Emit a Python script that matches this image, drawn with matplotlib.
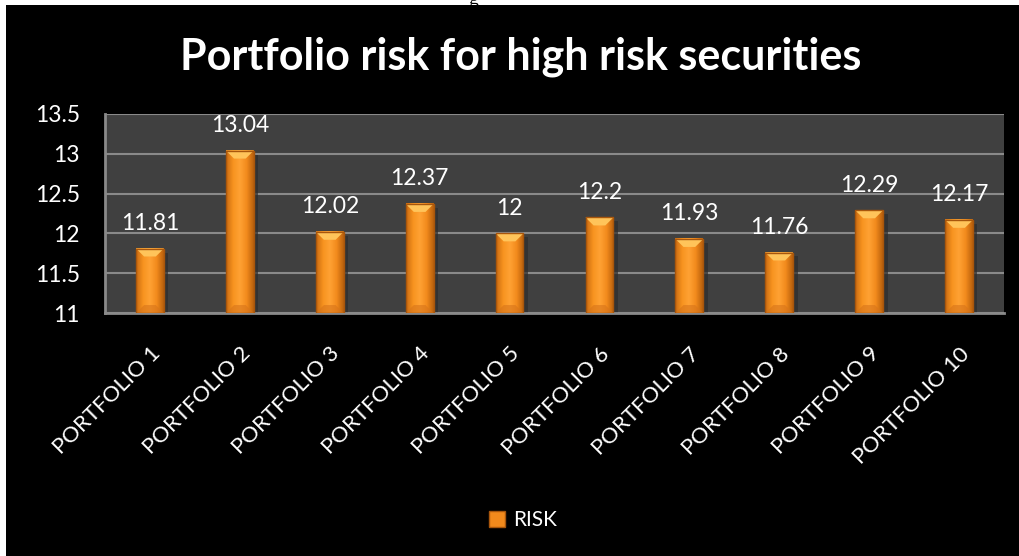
import numpy as np
import matplotlib.pyplot as plt
from matplotlib.patches import Rectangle, Polygon, Patch
from matplotlib.colors import LinearSegmentedColormap

plt.rcParams['font.family'] = ['Lato', 'DejaVu Sans']

portfolios = ['PORTFOLIO 1', 'PORTFOLIO 2', 'PORTFOLIO 3', 'PORTFOLIO 4', 'PORTFOLIO 5',
              'PORTFOLIO 6', 'PORTFOLIO 7', 'PORTFOLIO 8', 'PORTFOLIO 9', 'PORTFOLIO 10']
risk = [11.81, 13.04, 12.02, 12.37, 12.00, 12.20, 11.93, 11.76, 12.29, 12.17]
risk_labels = ['11.81', '13.04', '12.02', '12.37', '12', '12.2', '11.93', '11.76', '12.29', '12.17']
y_ticks = [11, 11.5, 12, 12.5, 13, 13.5]
y_tick_labels = ['11', '11.5', '12', '12.5', '13', '13.5']

fig = plt.figure(figsize=(10.2, 5.56), dpi=100, facecolor='white')

# black chart frame sitting on the white page
fig.patches.append(Rectangle((6 / 1020, 0), 1, 1 - 5 / 556, transform=fig.transFigure,
                             facecolor='black', edgecolor='none', zorder=-5))
fig.text(473 / 1020, 1.0, 'g', family='Liberation Serif', fontsize=14,
         color='black', ha='center', va='center', zorder=-4)

ax = fig.add_axes([105 / 1020, 1 - 313 / 556, 899 / 1020, 199 / 556])
ax.set_zorder(2)
ax.set_facecolor('#404040')

ax.set_yticks(y_ticks)
ax.set_yticklabels(y_tick_labels)
ax.yaxis.grid(True, color='#8a8a8a', linewidth=1.5)
ax.set_axisbelow(True)
for side in ['top', 'right']:
    ax.spines[side].set_visible(False)
for side in ['left', 'bottom']:
    ax.spines[side].set_color('#8a8a8a')
    ax.spines[side].set_linewidth(2)
ax.tick_params(axis='both', length=0, colors='white', labelsize=16.5)
ax.tick_params(axis='y', pad=18)

x = np.arange(len(risk))
ax.set_xticks(x)
ax.set_xticklabels(portfolios, rotation=45, ha='right', rotation_mode='anchor', fontsize=16)
ax.tick_params(axis='x', pad=22)

# shaded orange bars with a bevelled top
bar_w = 0.31
cmap = LinearSegmentedColormap.from_list('bar', ['#c96a12', '#f7931f', '#ffa234', '#f28a1c', '#b8600c'])
grad = np.linspace(0, 1, 64).reshape(1, -1)
cap = 0.1
for xi, v in zip(x, risk):
    left, right = xi - bar_w / 2, xi + bar_w / 2
    # soft drop shadow on the right side
    ax.add_patch(Rectangle((right, 11), 0.05, v - 11 - 0.05, facecolor='#2e2e2e',
                           edgecolor='none', alpha=0.7, zorder=2))
    ax.imshow(grad, cmap=cmap, aspect='auto', extent=(left, right, 11, v), zorder=3)
    ax.add_patch(Polygon([(left, v), (right, v), (right - 0.09, v - cap), (left + 0.09, v - cap)],
                         facecolor='#ffc45a', edgecolor='none', zorder=4))
    ax.add_patch(Polygon([(left, 11), (right, 11), (right - 0.09, 11 + cap), (left + 0.09, 11 + cap)],
                         facecolor='#d7741a', edgecolor='none', alpha=0.6, zorder=4))
    ax.add_patch(Rectangle((left, 11), bar_w, v - 11, facecolor='none',
                           edgecolor='#a8560c', linewidth=1, zorder=5))

for xi, v, s in zip(x, risk, risk_labels):
    ax.annotate(s, (xi, v), xytext=(0, 18), textcoords='offset points',
                ha='center', va='center', color='white', fontsize=16.5)

ax.set_xlim(-0.5, len(risk) - 0.5)
ax.set_ylim(11, 13.5)

fig.suptitle('Portfolio risk for high risk securities', x=0.51, y=1 - 57 / 556, va='center',
             color='white', fontsize=31, fontweight='bold')

leg = fig.legend(handles=[Patch(facecolor='#f28a1c', edgecolor='#a8560c', label='RISK')],
                 loc='center', bbox_to_anchor=(523 / 1020, 1 - 520 / 556), frameon=False,
                 fontsize=15, handlelength=0.8, handleheight=0.8, handletextpad=0.4)
for t in leg.get_texts():
    t.set_color('white')

fig.savefig('out.png', dpi=100, facecolor='white')
